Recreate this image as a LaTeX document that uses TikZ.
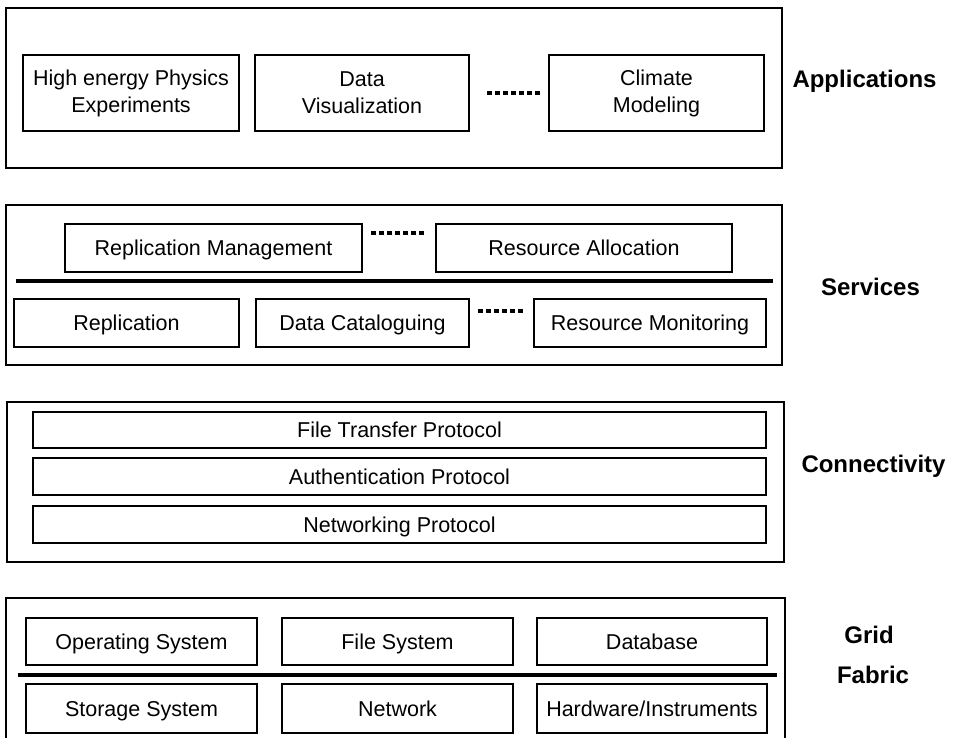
\documentclass[tikz,border=0pt]{standalone}
\usepackage{fontspec}
\setmainfont{Liberation Sans}
\begin{document}
\begin{tikzpicture}[x=1pt,y=-1pt,
  layerbox/.style={draw, line width=1.8pt, inner sep=0pt},
  cell/.style={draw, line width=1.3pt, inner sep=0pt, align=center,
    font=\fontsize{21.5}{27}\selectfont},
  onecell/.style={cell, text height=15.4pt, text depth=0pt},
  sepline/.style={line width=3.6pt},
  dotrow/.style={line width=4pt, dash pattern=on 4.5pt off 3.5pt},
  tag/.style={anchor=base, font=\fontsize{24}{28}\selectfont\bfseries}]
\useasboundingbox (0,0) rectangle (960,738);

% ---------------- Applications layer ----------------
\node[layerbox, minimum width=776pt, minimum height=160pt] (apps) at (394,88) {};
\node[cell, minimum width=216pt, minimum height=76pt] (hep) at (131,93) {High energy Physics\\Experiments};
\node[cell, minimum width=214pt, minimum height=76pt] (vis) at (362,93) {Data\\Visualization};
\node[cell, minimum width=215pt, minimum height=76pt] (clim) at (656.5,93) {Climate\\Modeling};
\draw[dotrow] (487,93) -- (540,93);
\node[tag] (tapp) at (864.5,87.5) {Applications};

% ---------------- Services layer ----------------
\node[layerbox, minimum width=776pt, minimum height=160pt] (svc) at (394,285) {};
\node[onecell, minimum width=297pt, minimum height=48pt] (repm) at (213.5,248) {Replication Management};
\node[onecell, minimum width=296pt, minimum height=48pt] (ralloc) at (584,248) {Resource Allocation};
\draw[dotrow] (371,233) -- (426,233);
\draw[sepline] (16,281) -- (773,281);
\node[onecell, minimum width=225pt, minimum height=48pt] (repl) at (126.5,323) {Replication};
\node[onecell, minimum width=213pt, minimum height=48pt] (dcat) at (362.5,323) {Data Cataloguing};
\node[onecell, minimum width=232pt, minimum height=48pt] (rmon) at (650,323) {Resource Monitoring};
\draw[dotrow] (478,311) -- (523,311);
\node[tag] (tsvc) at (870.5,295) {Services};

% ---------------- Connectivity layer ----------------
\node[layerbox, minimum width=777pt, minimum height=160pt] (conn) at (395.5,482) {};
\node[onecell, minimum width=733pt, minimum height=36pt] (ftp) at (399.5,430) {File Transfer Protocol};
\node[onecell, minimum width=733pt, minimum height=37pt] (auth) at (399.5,476.5) {Authentication Protocol};
\node[onecell, minimum width=733pt, minimum height=37pt] (netp) at (399.5,524.5) {Networking Protocol};
\node[tag] (tconn) at (873.5,472) {Connectivity};

% ---------------- Grid Fabric layer ----------------
\node[layerbox, minimum width=779pt, minimum height=162pt] (fab) at (395.5,679) {};
\node[onecell, minimum width=231pt, minimum height=47pt] (os) at (141.5,641.5) {Operating System};
\node[onecell, minimum width=231pt, minimum height=47pt] (fs) at (397.5,641.5) {File System};
\node[onecell, minimum width=230pt, minimum height=47pt] (db) at (652,641.5) {Database};
\draw[sepline] (18,675) -- (777,675);
\node[onecell, minimum width=231pt, minimum height=49pt] (stor) at (141.5,708.5) {Storage System};
\node[onecell, minimum width=231pt, minimum height=49pt] (netw) at (397.5,708.5) {Network};
\node[onecell, minimum width=230pt, minimum height=49pt] (hw) at (652,708.5) {Hardware/Instruments};
\node[tag] (tgrid) at (869,643) {Grid};
\node[tag] (tfab) at (873,683) {Fabric};
\end{tikzpicture}
\end{document}
